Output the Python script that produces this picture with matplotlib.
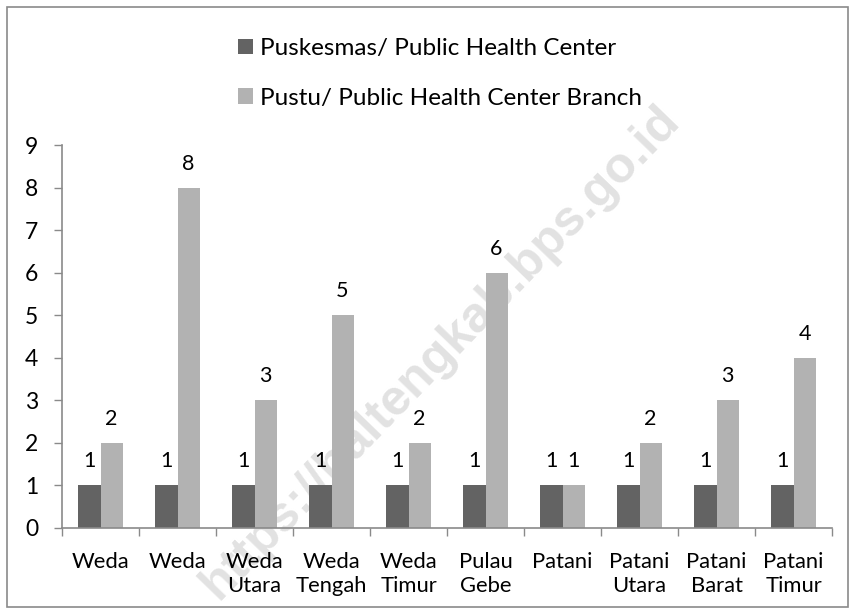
import numpy as np
import matplotlib.pyplot as plt
from matplotlib.patches import Rectangle

# districts (two-line labels as on the original)
districts = ['Weda', 'Weda', 'Weda\nUtara', 'Weda\nTengah', 'Weda\nTimur',
             'Pulau\nGebe', 'Patani', 'Patani\nUtara', 'Patani\nBarat', 'Patani\nTimur']
puskesmas = [1, 1, 1, 1, 1, 1, 1, 1, 1, 1]
pustu = [2, 8, 3, 5, 2, 6, 1, 2, 3, 4]
series_names = ['Puskesmas/ Public Health Center', 'Pustu/ Public Health Center Branch']
yticks = list(range(0, 10))

DARK = '#636363'
LIGHT = '#b2b2b2'
AXIS_GREY = '#8a8a8a'

plt.rcParams['font.family'] = ['Lato', 'DejaVu Sans']

fig = plt.figure(figsize=(8.55, 6.14), dpi=100)
ax = fig.add_axes([62/855, 1 - 528/614, (832 - 62)/855, (528 - 145)/614])

x = np.arange(len(districts))
w = 0.286
b1 = ax.bar(x - w/2, puskesmas, w, color=DARK, label=series_names[0], zorder=2)
b2 = ax.bar(x + w/2, pustu, w, color=LIGHT, label=series_names[1], zorder=2)

# value labels above each bar
for bars, vals in ((b1, puskesmas), (b2, pustu)):
  for rect, v in zip(bars, vals):
    ax.annotate(str(v), (rect.get_x() + rect.get_width()/2, v),
                xytext=(0, 13), textcoords='offset points',
                ha='center', va='baseline', fontsize=15.5, color='black')

ax.set_xlim(-0.5, len(districts) - 0.5)
ax.set_ylim(0, 9)
ax.set_yticks(yticks)
ax.tick_params(axis='y', labelsize=16.5, length=6, width=1, color=AXIS_GREY, pad=11)

# tick marks between categories, labels at the centres
ax.set_xticks(np.arange(-0.5, len(districts)), labels=[])
ax.set_xticks(x, labels=districts, minor=True)
ax.tick_params(axis='x', which='major', length=6, width=1, color=AXIS_GREY)
ax.tick_params(axis='x', which='minor', length=0, labelsize=15.8, pad=17)
for lbl in ax.get_xticklabels(minor=True):
  lbl.set_linespacing(1.3)
  lbl.set_verticalalignment('top')

for s in ('top', 'right'):
  ax.spines[s].set_visible(False)
for s in ('left', 'bottom'):
  ax.spines[s].set_color(AXIS_GREY)
  ax.spines[s].set_linewidth(1.2)

# watermark
fig.text(440/855, 1 - 352/614, 'https://haltengkab.bps.go.id', rotation=46,
         ha='center', va='center', fontsize=36, fontweight='bold',
         family='Liberation Sans', color='#e2e2e2', zorder=0)
ax.set_facecolor('none')
ax.set_zorder(1)

fig.legend(handles=[b1, b2], loc='upper left', bbox_to_anchor=(238/855, 1 - 38/614),
           frameon=False, fontsize=17.5, handlelength=0.62, handleheight=0.62,
           handletextpad=0.29, labelspacing=1.19, borderpad=0, borderaxespad=0)

# outer chart border
fig.patches.append(Rectangle((7/855, 7/614), (848 - 7)/855, (607 - 7)/614,
                             transform=fig.transFigure, fill=False,
                             edgecolor=AXIS_GREY, linewidth=1.2))

fig.savefig('out.png', dpi=100)
